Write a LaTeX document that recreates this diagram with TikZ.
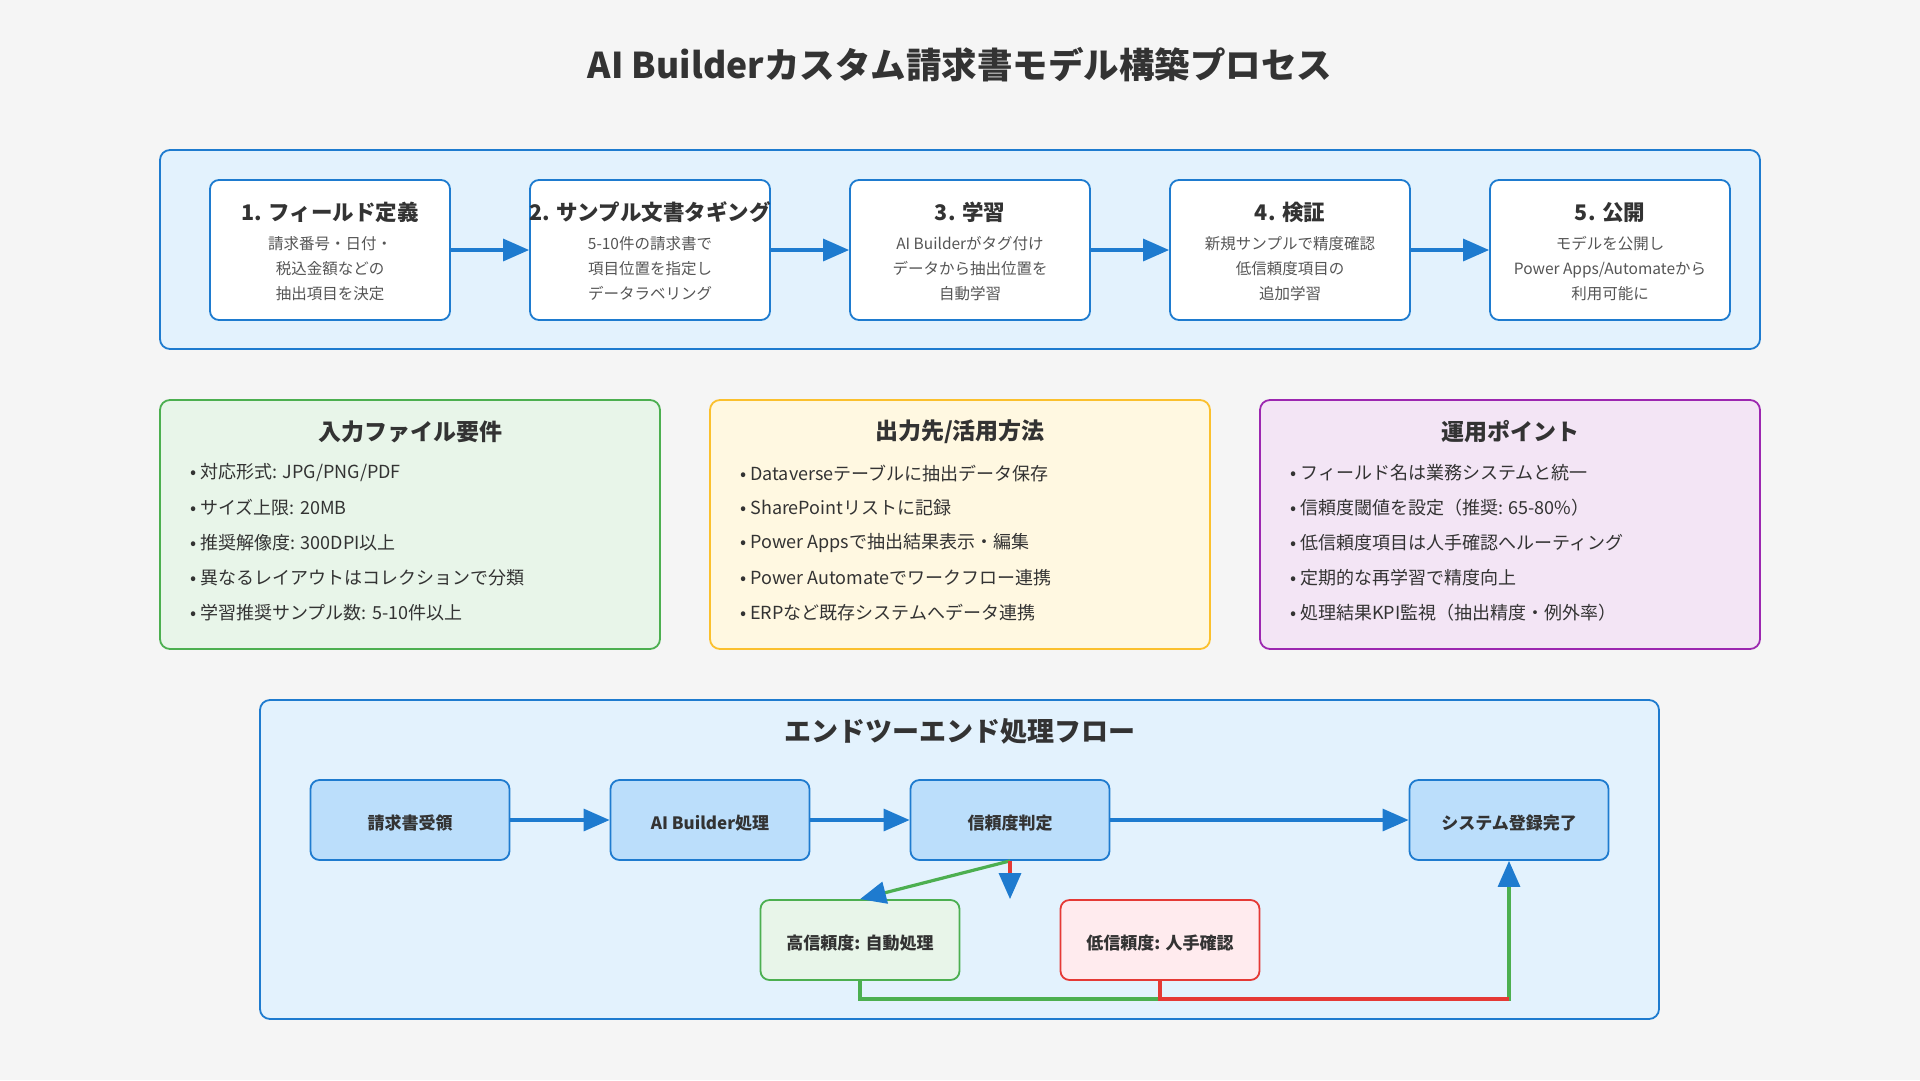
\documentclass[tikz,border=0pt]{standalone}
\usepackage{fontspec}
\setmainfont{Noto Sans CJK JP}
\usetikzlibrary{arrows.meta}
\definecolor{bg}{HTML}{F5F5F5}
\definecolor{panelfill}{HTML}{E3F2FD}
\definecolor{blueline}{HTML}{1E7BCF}
\definecolor{flowfill}{HTML}{BBDEFB}
\definecolor{txt}{HTML}{333333}
\definecolor{desc}{HTML}{555555}
\definecolor{gfill}{HTML}{E8F5E9}
\definecolor{gline}{HTML}{4CAF50}
\definecolor{yfill}{HTML}{FFF8E1}
\definecolor{yline}{HTML}{FBC02D}
\definecolor{pfill}{HTML}{F3E5F5}
\definecolor{pline}{HTML}{9C27B0}
\definecolor{rfill}{HTML}{FFEBEE}
\definecolor{rline}{HTML}{E53935}
\tikzset{
  panel/.style={draw=blueline, line width=1.8pt, fill=panelfill, rounded corners=10pt, inner sep=0pt},
  stepbox/.style={draw=blueline, line width=1.8pt, fill=white, rounded corners=9pt, minimum width=240pt, minimum height=140pt, inner sep=0pt},
  steptitle/.style={font=\fontsize{21.5}{25}\selectfont\bfseries, text=txt, inner sep=0pt},
  stepdesc/.style={font=\fontsize{15.5}{25}\selectfont, text=desc, align=center, inner sep=0pt},
  infobox/.style={line width=1.8pt, rounded corners=10pt, minimum width=500pt, minimum height=249pt, inner sep=0pt},
  infotitle/.style={font=\fontsize{23}{28}\selectfont\bfseries, text=txt, inner sep=0pt},
  bullet/.style={font=\fontsize{18}{22}\selectfont, text=txt, anchor=west, inner sep=0pt},
  flowbox/.style={draw=blueline, line width=1.8pt, fill=flowfill, rounded corners=9pt, minimum width=199pt, minimum height=80pt, inner sep=0pt, text height=19pt, text depth=0pt, font=\fontsize{17}{20}\selectfont\bfseries, text=txt},
  flow/.style={line width=3.2pt, draw=blueline, -{Triangle[length=26pt,width=22pt]}},
  gflow/.style={line width=3.2pt, draw=gline, -{Triangle[length=26pt,width=22pt,color=blueline]}},
  rflow/.style={line width=3.2pt, draw=rline, -{Triangle[length=26pt,width=22pt,color=blueline]}},
  gline/.style={line width=3.2pt, draw=gline},
  rline/.style={line width=3.2pt, draw=rline},
}
\begin{document}
\begin{tikzpicture}[x=1pt,y=-1pt]
\fill[bg] (0,0) rectangle (1920,1080);
\useasboundingbox (0,0) rectangle (1920,1080);

\node[font=\fontsize{35.5}{40}\selectfont\bfseries, text=txt] (title) at (960,65) {AI Builderカスタム請求書モデル構築プロセス};

% top panel
\node[panel, minimum width=1600pt, minimum height=199pt] (toppanel) at (960,249.5) {};

\node[stepbox] (s1) at (330,250) {};
\node[stepbox] (s2) at (650,250) {};
\node[stepbox] (s3) at (970,250) {};
\node[stepbox] (s4) at (1290,250) {};
\node[stepbox] (s5) at (1610,250) {};

\node[steptitle] (t1) at (330,212.5) {1. フィールド定義};
\node[steptitle] (t2) at (650,212.5) {2. サンプル文書タギング};
\node[steptitle] (t3) at (970,212.5) {3. 学習};
\node[steptitle] (t4) at (1290,212.5) {4. 検証};
\node[steptitle] (t5) at (1610,212.5) {5. 公開};

\node[stepdesc] (d1) at (330,269) {請求番号・日付・\\税込金額などの\\抽出項目を決定};
\node[stepdesc] (d2) at (650,269) {5-10件の請求書で\\項目位置を指定し\\データラベリング};
\node[stepdesc] (d3) at (970,269) {AI Builderがタグ付け\\データから抽出位置を\\自動学習};
\node[stepdesc] (d4) at (1290,269) {新規サンプルで精度確認\\低信頼度項目の\\追加学習};
\node[stepdesc] (d5) at (1610,269) {モデルを公開し\\Power Apps/Automateから\\利用可能に};

\draw[flow] (s1.east) -- (s2.west);
\draw[flow] (s2.east) -- (s3.west);
\draw[flow] (s3.east) -- (s4.west);
\draw[flow] (s4.east) -- (s5.west);

% info boxes
\node[infobox, draw=gline, fill=gfill] (in) at (410,524.5) {};
\node[infobox, draw=yline, fill=yfill] (out) at (960,524.5) {};
\node[infobox, draw=pline, fill=pfill] (ops) at (1510,524.5) {};

\node[infotitle] (inT) at (410,432) {入力ファイル要件};
\node[infotitle] (outT) at (960,432) {出力先/活用方法};
\node[infotitle] (opsT) at (1510,432) {運用ポイント};

\node[bullet] (in1) at (190,473) {• 対応形式: JPG/PNG/PDF};
\node[bullet] (in2) at (190,508) {• サイズ上限: 20MB};
\node[bullet] (in3) at (190,543) {• 推奨解像度: 300DPI以上};
\node[bullet] (in4) at (190,578) {• 異なるレイアウトはコレクションで分類};
\node[bullet] (in5) at (190,613) {• 学習推奨サンプル数: 5-10件以上};

\node[bullet] (out1) at (740,473) {• Dataverseテーブルに抽出データ保存};
\node[bullet] (out2) at (740,508) {• SharePointリストに記録};
\node[bullet] (out3) at (740,543) {• Power Appsで抽出結果表示・編集};
\node[bullet] (out4) at (740,578) {• Power Automateでワークフロー連携};
\node[bullet] (out5) at (740,613) {• ERPなど既存システムへデータ連携};

\node[bullet] (ops1) at (1290,473) {• フィールド名は業務システムと統一};
\node[bullet] (ops2) at (1290,508) {• 信頼度閾値を設定（推奨: 65-80\%）};
\node[bullet] (ops3) at (1290,543) {• 低信頼度項目は人手確認へルーティング};
\node[bullet] (ops4) at (1290,578) {• 定期的な再学習で精度向上};
\node[bullet] (ops5) at (1290,613) {• 処理結果KPI監視（抽出精度・例外率）};

% bottom panel
\node[panel, minimum width=1399pt, minimum height=319pt] (botpanel) at (959.5,859.5) {};
\node[font=\fontsize{27}{30}\selectfont\bfseries, text=txt] (botT) at (960,731) {エンドツーエンド処理フロー};

\node[flowbox] (f1) at (410,820) {請求書受領};
\node[flowbox] (f2) at (710,820) {AI Builder処理};
\node[flowbox] (f3) at (1010,820) {信頼度判定};
\node[flowbox] (f4) at (1509,820) {システム登録完了};
\node[flowbox, draw=gline, fill=gfill] (hi) at (860,940) {高信頼度: 自動処理};
\node[flowbox, draw=rline, fill=rfill] (lo) at (1160,940) {低信頼度: 人手確認};

\coordinate (rail) at (0,999);

\draw[flow] (f1.east) -- (f2.west);
\draw[flow] (f2.east) -- (f3.west);
\draw[flow] (f3.east) -- (f4.west);
\draw[gflow] (f3.south) -- (hi.north);
\draw[rflow] (f3.south) -- (f3.south |- hi.north);
\draw[gflow] (hi.south) -- (hi.south |- rail) -- (f4.south |- rail) -- (f4.south);
\draw[rline] (lo.south) -- (lo.south |- rail) -- (f4.south |- rail);
\end{tikzpicture}
\end{document}
